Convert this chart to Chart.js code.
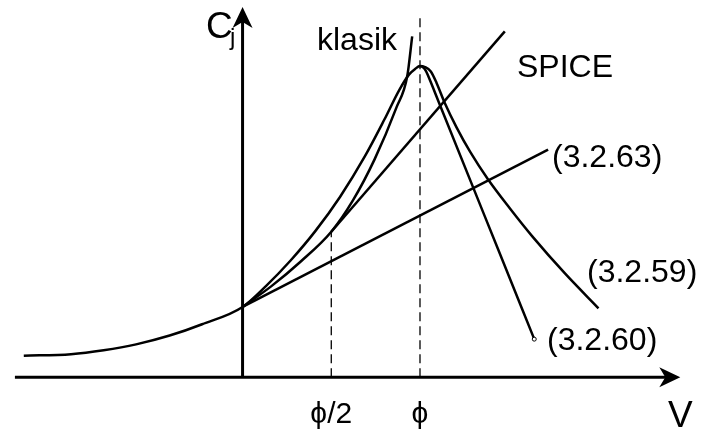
<!DOCTYPE html>
<html>
<head>
<meta charset="utf-8">
<script src="https://cdn.jsdelivr.net/npm/chart.js@4.4.1/dist/chart.umd.min.js"></script>
<style>
  html, body { margin: 0; padding: 0; background: #fff; }
  #wrap { width: 701px; height: 437px; }
</style>
</head>
<body>
<div id="wrap"><canvas id="cj" width="701" height="437"></canvas></div>
<script>
// V in units of phi, Cj in units of Cj0
var eq59V = [-1.233, -0.967, -0.783, -0.6, -0.411, -0.228, 0,
  0.133, 0.272, 0.411, 0.55, 0.689, 0.8, 0.883, 0.939, 0.972, 1.0,
  1.028, 1.061, 1.094, 1.139, 1.206, 1.283, 1.383, 1.506, 1.633, 1.817, 2.006];
var eq59C = [0.306, 0.329, 0.385, 0.468, 0.593, 0.754, 1.0,
  1.3, 1.664, 2.081, 2.567, 3.139, 3.667, 4.083, 4.306, 4.381, 4.424,
  4.41, 4.347, 4.181, 3.903, 3.553, 3.203, 2.815, 2.403, 2.003, 1.476, 0.981];

var eq60V = [1.0, 1.017, 1.033, 1.047, 1.106, 1.439, 1.644];
var eq60C = [4.424, 4.406, 4.356, 4.278, 3.91, 1.826, 0.542];

var klasikV = [0, 0.161, 0.328, 0.5, 0.622, 0.744, 0.867, 0.928, 0.956];
var klasikC = [1.0, 1.292, 1.646, 2.069, 2.514, 3.097, 3.833, 4.278, 4.847];

var spiceV = [0.5, 1.478];
var spiceC = [2.069, 4.917];

var eq63V = [0, 1.722];
var eq63C = [1.0, 3.236];

var tickV = [0.5, 1];
var tickLabels = ['ϕ/2', 'ϕ'];
var tickTop = [2.069, 5.125];

function pts(xs, ys) {
  return xs.map(function (x, i) { return { x: x, y: ys[i] }; });
}

var ink = '#000';

function curve(xs, ys, extra) {
  var ds = {
    data: pts(xs, ys),
    borderColor: ink,
    borderWidth: 2.5,
    pointRadius: 0,
    fill: false,
    cubicInterpolationMode: 'monotone'
  };
  for (var k in extra) ds[k] = extra[k];
  return ds;
}

function straight(xs, ys, extra) {
  var ds = curve(xs, ys, extra);
  ds.cubicInterpolationMode = 'default';
  ds.tension = 0;
  return ds;
}

var datasets = [
  // axes
  straight([-1.283, 2.44], [0, 0], { borderWidth: 3 }),
  straight([0, 0], [0, 5.2], { borderWidth: 3 }),
  // dashed markers at phi/2 and phi
  straight([tickV[0], tickV[0]], [0, tickTop[0]], { borderWidth: 1.3, borderDash: [9, 5] }),
  straight([tickV[1], tickV[1]], [0, tickTop[1]], { borderWidth: 1.3, borderDash: [9, 5] }),
  curve(eq59V, eq59C),
  curve(eq60V, eq60C, {
    pointRadius: eq60V.map(function (v, i) { return i === eq60V.length - 1 ? 2 : 0; }),
    pointBackgroundColor: '#fff',
    pointBorderColor: ink,
    pointBorderWidth: 1
  }),
  curve(klasikV, klasikC),
  straight(spiceV, spiceC),
  straight(eq63V, eq63C)
];

var decor = {
  id: 'decor',
  afterDatasetsDraw: function (chart) {
    var c = chart.ctx, xs = chart.scales.x, ys = chart.scales.y;
    c.save();
    c.fillStyle = ink;

    // arrow heads
    function head(tx, ty, dx, dy) {
      var px = -dy, py = dx;
      c.beginPath();
      c.moveTo(tx, ty);
      c.lineTo(tx - dx * 21 + px * 10, ty - dy * 21 + py * 10);
      c.lineTo(tx - dx * 15, ty - dy * 15);
      c.lineTo(tx - dx * 21 - px * 10, ty - dy * 21 - py * 10);
      c.closePath();
      c.fill();
    }
    head(xs.getPixelForValue(2.467), ys.getPixelForValue(0), 1, 0);
    head(xs.getPixelForValue(0), ys.getPixelForValue(5.264), 0, -1);

    c.textBaseline = 'alphabetic';
    c.font = '30px "Liberation Sans", "DejaVu Sans", sans-serif';
    c.textAlign = 'center';
    tickV.forEach(function (v, i) {
      c.fillText(tickLabels[i], xs.getPixelForValue(v), 423);
    });

    c.font = '32px "Liberation Sans", Arial, sans-serif';
    c.textAlign = 'left';
    c.fillText('klasik', 317, 50);
    c.fillText('SPICE', 517, 77);
    c.fillText('(3.2.63)', 552, 167);
    c.fillText('(3.2.59)', 587, 282);
    c.fillText('(3.2.60)', 547, 350);

    c.font = '37px "Liberation Sans", Arial, sans-serif';
    c.fillText('V', 668, 427);
    c.fillText('C', 206, 38);
    c.font = '24px "Liberation Sans", Arial, sans-serif';
    c.fillText('j', 230, 45);
    c.restore();
  }
};

new Chart(document.getElementById('cj'), {
  type: 'line',
  data: { datasets: datasets },
  options: {
    responsive: false,
    animation: false,
    layout: { padding: 0 },
    scales: {
      x: { type: 'linear', display: false, min: -241 / 180, max: 460 / 180 },
      y: { type: 'linear', display: false, min: -56 / 72, max: 381 / 72 }
    },
    plugins: { legend: { display: false }, tooltip: { enabled: false } }
  },
  plugins: [decor]
});
</script>
</body>
</html>
